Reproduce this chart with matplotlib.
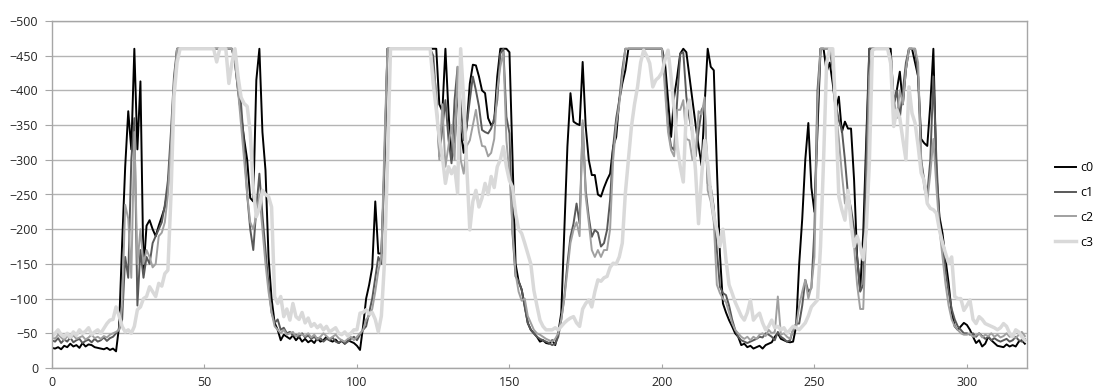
import numpy as np
import matplotlib
matplotlib.use("Agg")
import matplotlib.pyplot as plt

# -------------------------------
# Series values (one per sample)
# -------------------------------
c0 = [
    -29, -28, -30, -27, -32, -30, -35, -31, -33, -29,
    -36, -31, -34, -33, -30, -29, -28, -27, -29, -26,
    -28, -24, -60, -180, -290, -370, -315, -460, -315, -413,
    -140, -205, -213, -200, -190, -205, -218, -232, -258, -320,
    -400, -460, -460, -460, -460, -460, -460, -460, -460, -460,
    -460, -460, -460, -460, -460, -460, -460, -460, -460, -460,
    -440, -400, -365, -330, -300, -245, -240, -415, -460, -340,
    -285, -160, -100, -65, -55, -40, -48, -45, -42, -47,
    -40, -45, -38, -42, -37, -40, -36, -43, -38, -40,
    -45, -40, -38, -41, -36, -39, -35, -40, -38, -36,
    -32, -26, -60, -100, -120, -145, -240, -165, -165, -290,
    -460, -460, -460, -460, -460, -460, -460, -460, -460, -460,
    -460, -460, -460, -460, -460, -460, -460, -380, -370, -460,
    -370, -300, -320, -400, -340, -310, -350, -410, -437, -436,
    -420, -400, -396, -360, -350, -355, -420, -460, -460, -460,
    -455, -300, -150, -125, -113, -90, -65, -55, -50, -45,
    -38, -40, -36, -35, -40, -33, -50, -80, -200, -319,
    -396, -355, -352, -350, -441, -348, -300, -278, -278, -250,
    -247, -260, -271, -280, -319, -333, -386, -410, -429, -460,
    -460, -460, -460, -460, -460, -460, -460, -460, -460, -460,
    -460, -440, -386, -333, -391, -420, -453, -460, -455, -420,
    -386, -352, -320, -292, -380, -460, -434, -429, -290, -165,
    -93, -80, -69, -60, -50, -45, -33, -35, -30, -32,
    -28, -30, -32, -28, -33, -35, -37, -45, -50, -42,
    -40, -38, -37, -38, -60, -150, -215, -300, -353, -260,
    -225, -343, -460, -460, -427, -440, -410, -372, -391, -340,
    -355, -345, -345, -271, -160, -112, -194, -330, -460, -460,
    -460, -460, -460, -460, -460, -460, -380, -400, -427, -380,
    -430, -460, -460, -440, -420, -330, -324, -320, -380, -460,
    -280, -218, -194, -156, -122, -80, -60, -55, -60, -65,
    -62, -55, -45, -36, -40, -31, -35, -45, -40, -36,
    -32, -31, -30, -34, -31, -33, -31, -38, -40, -35,
]

c1 = [
    -40, -38, -43, -36, -41, -38, -44, -37, -40, -42,
    -36, -39, -41, -37, -42, -38, -40, -44, -39, -43,
    -45, -50, -55, -70, -160, -130, -300, -360, -90, -170,
    -130, -160, -150, -180, -190, -200, -210, -235, -270, -340,
    -420, -460, -460, -460, -460, -460, -460, -460, -460, -460,
    -460, -460, -460, -460, -460, -460, -460, -460, -460, -460,
    -450, -420, -380, -320, -250, -200, -170, -230, -280, -220,
    -170, -120, -80, -65, -70, -55, -58, -50, -52, -47,
    -48, -45, -50, -44, -47, -42, -45, -40, -43, -38,
    -42, -40, -44, -38, -36, -40, -35, -38, -42, -45,
    -40, -48, -55, -60, -80, -100, -130, -160, -150, -300,
    -460, -460, -460, -460, -460, -460, -460, -460, -460, -460,
    -460, -460, -460, -460, -460, -450, -386, -305, -345, -386,
    -330, -295, -386, -434, -380, -328, -350, -386, -420, -400,
    -377, -343, -340, -338, -345, -360, -386, -453, -460, -362,
    -338, -194, -132, -125, -113, -88, -65, -55, -50, -45,
    -42, -40, -38, -36, -33, -35, -45, -70, -103, -150,
    -189, -208, -237, -208, -353, -256, -218, -189, -199, -195,
    -175, -180, -199, -242, -319, -360, -386, -430, -460, -460,
    -460, -460, -460, -460, -460, -460, -460, -460, -460, -460,
    -460, -420, -347, -319, -314, -386, -453, -455, -391, -360,
    -338, -305, -340, -372, -380, -266, -261, -232, -170, -117,
    -108, -105, -90, -70, -55, -45, -40, -38, -36, -38,
    -40, -42, -45, -44, -50, -48, -45, -40, -52, -45,
    -42, -38, -40, -55, -64, -64, -90, -127, -110, -115,
    -200, -400, -460, -460, -460, -460, -430, -380, -357, -343,
    -300, -250, -230, -200, -160, -110, -120, -300, -460, -460,
    -460, -460, -460, -460, -460, -440, -380, -400, -360, -400,
    -440, -460, -460, -460, -420, -300, -270, -250, -300, -420,
    -300, -210, -180, -140, -110, -85, -70, -60, -55, -50,
    -50, -48, -50, -45, -50, -46, -42, -45, -40, -43,
    -40, -38, -40, -42, -38, -40, -45, -40, -38, -42,
]

c2 = [
    -45, -42, -48, -44, -40, -46, -43, -47, -42, -44,
    -46, -41, -44, -48, -43, -45, -42, -46, -44, -48,
    -50, -52, -55, -90, -235, -215, -130, -340, -150, -200,
    -150, -170, -160, -145, -150, -190, -195, -210, -250, -320,
    -410, -460, -460, -460, -460, -460, -460, -460, -460, -460,
    -460, -460, -460, -460, -460, -460, -460, -460, -460, -460,
    -440, -400, -350, -300, -250, -210, -200, -220, -250, -200,
    -150, -110, -80, -60, -55, -50, -55, -48, -50, -52,
    -45, -50, -48, -46, -50, -44, -48, -42, -45, -50,
    -46, -42, -45, -48, -43, -40, -38, -42, -45, -40,
    -45, -50, -55, -70, -75, -85, -110, -140, -160, -320,
    -460, -460, -460, -460, -460, -460, -460, -460, -460, -460,
    -460, -460, -460, -460, -460, -430, -400, -300, -380, -290,
    -320, -350, -300, -434, -300, -280, -320, -328, -350, -372,
    -340, -320, -319, -305, -310, -330, -400, -434, -455, -328,
    -280, -200, -136, -110, -97, -100, -75, -65, -55, -50,
    -48, -45, -42, -40, -38, -42, -50, -70, -100, -140,
    -180, -199, -210, -190, -357, -247, -210, -170, -160, -170,
    -160, -170, -170, -200, -300, -350, -380, -420, -460, -460,
    -460, -460, -460, -460, -460, -460, -460, -460, -460, -460,
    -460, -400, -340, -314, -305, -372, -372, -386, -330, -328,
    -300, -305, -370, -365, -390, -256, -240, -210, -120, -108,
    -100, -95, -80, -65, -55, -50, -45, -42, -45, -40,
    -45, -42, -48, -50, -46, -55, -50, -52, -103, -48,
    -50, -45, -42, -55, -60, -90, -110, -127, -100, -117,
    -160, -380, -460, -460, -460, -460, -440, -370, -330, -280,
    -237, -256, -218, -175, -120, -85, -85, -200, -420, -460,
    -460, -460, -460, -460, -460, -450, -390, -360, -400, -380,
    -430, -460, -460, -460, -440, -300, -260, -240, -280, -330,
    -260, -200, -160, -120, -90, -70, -60, -55, -50, -48,
    -48, -50, -45, -47, -50, -44, -48, -46, -50, -45,
    -48, -44, -46, -50, -45, -47, -43, -48, -52, -46,
]

c3 = [
    -45, -50, -55, -48, -45, -50, -44, -52, -47, -55,
    -50, -53, -58, -48, -52, -55, -50, -57, -64, -69,
    -70, -88, -75, -60, -52, -55, -50, -60, -84, -88,
    -100, -103, -117, -110, -103, -122, -118, -136, -141, -247,
    -391, -440, -460, -460, -460, -460, -460, -460, -460, -460,
    -460, -460, -460, -460, -441, -460, -460, -460, -410, -440,
    -460, -420, -390, -381, -377, -340, -260, -218, -230, -256,
    -250, -247, -232, -103, -93, -103, -74, -85, -69, -93,
    -74, -70, -80, -65, -72, -60, -64, -58, -62, -55,
    -60, -52, -55, -58, -50, -48, -52, -46, -50, -55,
    -55, -79, -80, -84, -78, -80, -70, -52, -75, -151,
    -295, -460, -460, -460, -460, -460, -460, -460, -460, -460,
    -460, -460, -460, -460, -460, -410, -372, -330, -305, -266,
    -290, -280, -290, -252, -460, -386, -290, -199, -240, -256,
    -232, -245, -266, -250, -276, -260, -290, -300, -319, -290,
    -270, -261, -223, -200, -194, -180, -165, -150, -112, -90,
    -69, -60, -55, -55, -55, -58, -55, -60, -65, -69,
    -72, -74, -65, -60, -85, -93, -98, -88, -110, -127,
    -125, -130, -132, -145, -151, -150, -160, -180, -252, -300,
    -348, -380, -405, -440, -458, -450, -439, -405, -415, -419,
    -426, -444, -458, -419, -372, -319, -290, -268, -372, -386,
    -338, -285, -208, -276, -328, -295, -252, -220, -200, -175,
    -200, -156, -120, -108, -95, -85, -75, -69, -80, -98,
    -69, -75, -79, -65, -55, -60, -69, -58, -60, -55,
    -58, -50, -55, -60, -58, -55, -60, -65, -75, -88,
    -93, -98, -175, -300, -440, -460, -460, -367, -247, -228,
    -213, -256, -208, -175, -190, -175, -156, -200, -295, -458,
    -460, -460, -460, -460, -460, -439, -348, -372, -360, -329,
    -300, -405, -367, -353, -320, -281, -270, -237, -230, -228,
    -223, -199, -180, -165, -151, -160, -103, -100, -100, -83,
    -90, -98, -70, -64, -74, -70, -64, -62, -60, -58,
    -55, -58, -64, -60, -50, -45, -55, -52, -45, -40,
]

names = ["c0", "c1", "c2", "c3"]
colors = ["#000000", "#595959", "#a0a0a0", "#d9d9d9"]
widths = [1.4, 1.4, 1.4, 2.5]

plt.rcParams['font.family'] = ['Open Sans', 'DejaVu Sans']

fig = plt.figure(figsize=(10.97, 3.92), dpi=100)
ax = fig.add_axes([52 / 1097, 1 - 368 / 392, 975 / 1097, 347 / 392])

x = np.arange(len(c0))
for vals, name, col, lw in zip([c0, c1, c2, c3], names, colors, widths):
    ax.plot(x, vals, color=col, lw=lw, label=name)

# inverted value axis: 0 at bottom, -500 at top
ax.set_ylim(0, -500)
ax.set_xlim(0, 319.7)
ax.set_yticks(np.arange(0, -501, -50))
ax.set_xticks(np.arange(0, 301, 50))

ax.grid(axis='y', color='#b4b4b4', lw=1.0)
ax.set_axisbelow(True)
for side in ['left', 'right', 'top', 'bottom']:
    ax.spines[side].set_color('#a6a6a6')
    ax.spines[side].set_linewidth(1.0)

ax.tick_params(axis='y', direction='out', length=5, width=0.8, color='#a6a6a6',
               pad=5, labelsize=9, labelcolor='#262626')
ax.tick_params(axis='x', direction='in', length=3, width=0.8, color='#a6a6a6',
               pad=6, labelsize=9, labelcolor='#262626')

ax.legend(loc='center left', bbox_to_anchor=(1.0287, 0.47), frameon=False,
          fontsize=9, handlelength=1.7, handletextpad=0.35, labelspacing=0.95,
          borderaxespad=0, borderpad=0)

fig.savefig("out.png", dpi=100)
